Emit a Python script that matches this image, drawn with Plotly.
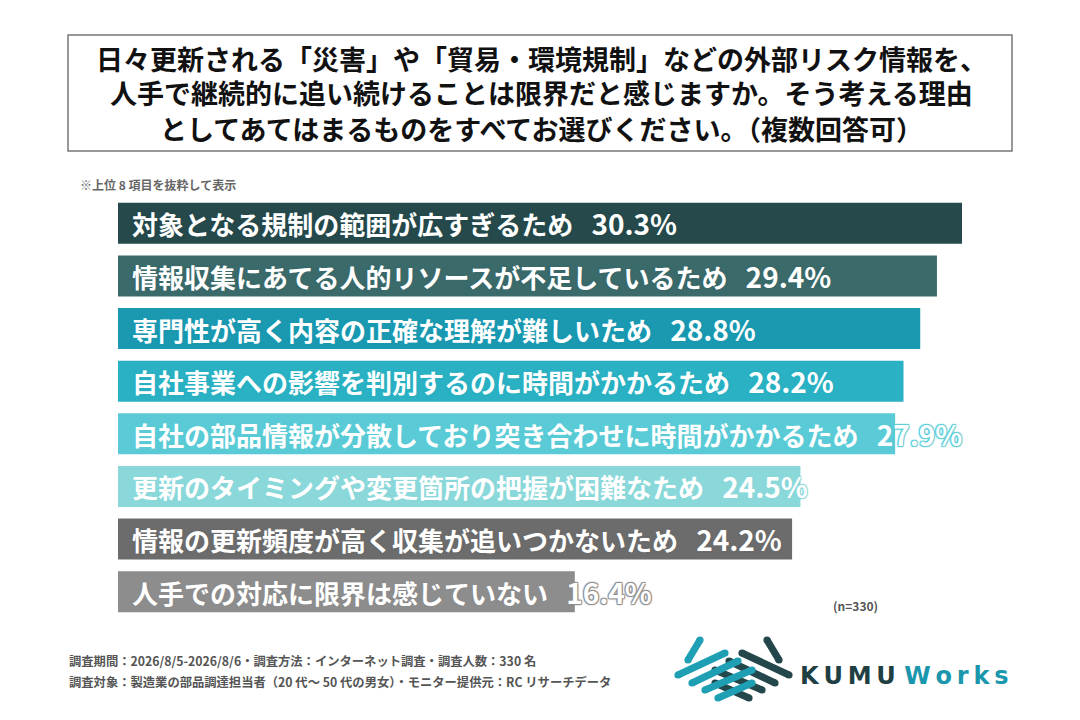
import plotly.graph_objects as go

# survey data (top 8 reasons)
labels = [
    "対象となる規制の範囲が広すぎるため",
    "情報収集にあてる人的リソースが不足しているため",
    "専門性が高く内容の正確な理解が難しいため",
    "自社事業への影響を判別するのに時間がかかるため",
    "自社の部品情報が分散しており突き合わせに時間がかかるため",
    "更新のタイミングや変更箇所の把握が困難なため",
    "情報の更新頻度が高く収集が追いつかないため",
    "人手での対応に限界は感じていない",
]
values = [30.3, 29.4, 28.8, 28.2, 27.9, 24.5, 24.2, 16.4]
colors = ["#264a4c", "#3b6a6b", "#1a99b1", "#2ab1c3", "#5acbd6", "#8ad8da", "#6c6c6c", "#8d8d8d"]

title_lines = [
    "日々更新される「災害」や「貿易・環境規制」などの外部リスク情報を、",
    "人手で継続的に追い続けることは限界だと感じますか。そう考える理由",
    "としてあてはまるものをすべてお選びください。（複数回答可）",
]
note = "※上位 8 項目を抜粋して表示"
n_text = "(n=330)"
footer_lines = [
    "調査期間：2026/8/5-2026/8/6・調査方法：インターネット調査・調査人数：330 名",
    "調査対象：製造業の部品調達担当者（20 代～ 50 代の男女）・モニター提供元：RC リサーチデータ",
]

FONT = "Noto Sans CJK JP"
W, H = 1080, 720
pos = list(range(len(values)))

fig = go.Figure()
fig.add_trace(go.Bar(
    x=values, y=pos, orientation="h",
    marker=dict(color=colors, line=dict(width=0)),
    width=0.78, hoverinfo="skip",
))

# pixel -> paper helper (margins are zero so paper == whole figure)
def px(x, y):
    return x / W, 1 - y / H

annotations = []
for i, (lab, v, c) in enumerate(zip(labels, values, colors)):
    sh = f"1px 1px 1px {c}, -1px -1px 1px {c}, 1px -1px 1px {c}, -1px 1px 1px {c}"
    annotations.append(dict(
        x=0, y=i, xref="x", yref="y", xanchor="left", yanchor="middle",
        xshift=12, showarrow=False,
        text=f"<b>{lab}\u2002\u2009<span style='font-size:28px'>{v:.1f}%</span></b>",
        font=dict(family=FONT, size=26, color="white", shadow=sh),
    ))

# title, one annotation per line
for k, line in enumerate(title_lines):
    tx, ty = px(541, 58 + 35 * k)
    annotations.append(dict(
        x=tx, y=ty, xref="paper", yref="paper", showarrow=False,
        text="<b>" + line + "</b>",
        font=dict(family=FONT, size=27, color="#111111"),
        yanchor="middle", xanchor="center",
    ))
nx, ny = px(78, 185)
annotations.append(dict(
    x=nx, y=ny, xref="paper", yref="paper", showarrow=False,
    xanchor="left", yanchor="middle", text="<b>" + note + "</b>",
    font=dict(family=FONT, size=12, color="#666666"),
))
cx, cy = px(855, 605)
annotations.append(dict(
    x=cx, y=cy, xref="paper", yref="paper", showarrow=False,
    xanchor="center", yanchor="middle", text="<b>" + n_text + "</b>",
    font=dict(family=FONT, size=12, color="#555555"),
))
for k, line in enumerate(footer_lines):
    fx, fy = px(67, 661 + 21 * k)
    annotations.append(dict(
        x=fx, y=fy, xref="paper", yref="paper",
        showarrow=False, xanchor="left", yanchor="middle",
        text="<b>" + line + "</b>",
        font=dict(family=FONT, size=12.3, color="#555555"),
    ))
# logo text
lx, ly = px(798, 676)
t = "\u2009"
annotations.append(dict(
    x=lx, y=ly, xref="paper", yref="paper", showarrow=False,
    xanchor="left", yanchor="middle",
    text=f"<b><span style='color:#1f3f43'>{t.join('KUMU')}</span> <span style='color:#1b97ad'>{t.join('Works')}</span></b>",
    font=dict(family="DejaVu Sans", size=24),
))

bx0, by0 = px(68, 151)
bx1, by1 = px(1012, 35)
shapes = [dict(
    type="rect", xref="paper", yref="paper",
    x0=bx0, x1=bx1, y0=by0, y1=by1,
    line=dict(color="#777777", width=1.5), fillcolor="white", layer="below",
)]

# logo strokes (decoration): teal on the left, dark mirrored on the right
dark = "#24474b"
teal = "#1e9fb4"
teal_strokes = [
    ((688, 660), (700, 640)),
    ((678, 675), (725, 653)),
    ((692, 683), (738, 661)),
    ((705, 690), (752, 670)),
    ((718, 698), (752, 683)),
]
MID = 733.5
strokes = [(dark, (2 * MID - a[0], a[1]), (2 * MID - b[0], b[1])) for a, b in teal_strokes]
strokes += [(teal, a, b) for a, b in teal_strokes]
R = 3.6
for col, a, b in strokes:
    x0, y0 = px(*a)
    x1, y1 = px(*b)
    shapes.append(dict(type="line", xref="paper", yref="paper",
                       x0=x0, y0=y0, x1=x1, y1=y1,
                       line=dict(color=col, width=2 * R)))
    for ex, ey in (a, b):
        c0 = px(ex - R, ey + R)
        c1 = px(ex + R, ey - R)
        shapes.append(dict(type="circle", xref="paper", yref="paper",
                           x0=c0[0], y0=c0[1], x1=c1[0], y1=c1[1],
                           fillcolor=col, line=dict(width=0)))

fig.update_layout(
    width=W, height=H,
    margin=dict(l=0, r=0, t=0, b=0),
    paper_bgcolor="white", plot_bgcolor="white",
    showlegend=False,
    xaxis=dict(range=[0, 33.1], visible=False, fixedrange=True,
               domain=[118 / W, 1040 / W]),
    yaxis=dict(range=[7.5, -0.5], visible=False, fixedrange=True,
               domain=[1 - 618 / H, 1 - 197 / H]),
    annotations=annotations,
    shapes=shapes,
)

fig.write_html("out.html", config={"displayModeBar": False},
               post_script="document.body.style.margin='0';")
